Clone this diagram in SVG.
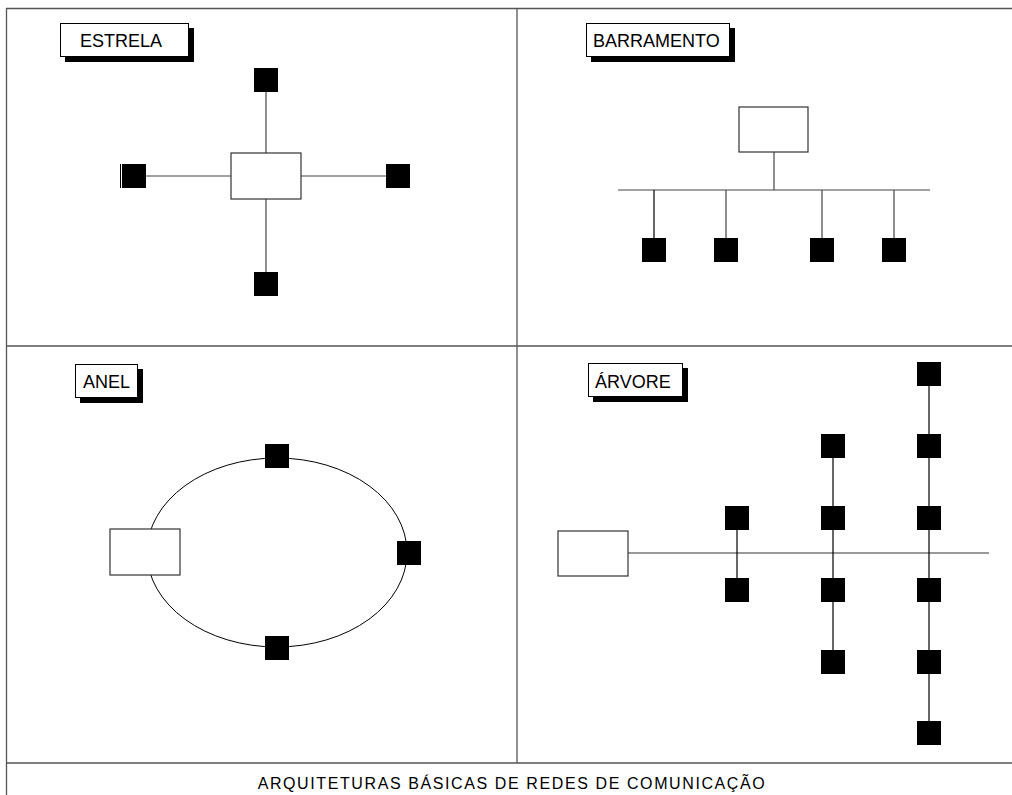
<svg xmlns="http://www.w3.org/2000/svg" width="1012" height="795" viewBox="0 0 1012 795">
<style>
.frame{stroke:#555;stroke-width:1.3;fill:none}
.ln{stroke:#444;stroke-width:1.2;fill:none}
.nd{fill:#000}
.bx{fill:#fff;stroke:#333;stroke-width:1.2}
.sh{fill:#000}
.lb{fill:#fff;stroke:#000;stroke-width:1}
.t{font-family:"Liberation Sans",Arial,sans-serif;font-size:18px;fill:#000}
.ft{font-family:"Liberation Sans",Arial,sans-serif;font-size:16px;fill:#000;letter-spacing:1.6px}
</style>
<g id="frame">
<line class="frame" x1="6" y1="8.5" x2="1012" y2="8.5"/>
<line class="frame" x1="6.5" y1="8" x2="6.5" y2="795"/>
<line class="frame" x1="517" y1="8" x2="517" y2="763"/>
<line class="frame" x1="6" y1="346" x2="1012" y2="346"/>
<line class="frame" x1="6" y1="763" x2="1012" y2="763"/>
</g>
<g id="connectors">
<line class="ln" x1="266" y1="92" x2="266" y2="153"/>
<line class="ln" x1="266" y1="199" x2="266" y2="272"/>
<line class="ln" x1="146" y1="176" x2="231" y2="176"/>
<line class="ln" x1="301" y1="176" x2="386" y2="176"/>
<line class="ln" x1="774" y1="152" x2="774" y2="190"/>
<line class="ln" x1="618" y1="190" x2="930" y2="190"/>
<line class="ln" x1="654" y1="190" x2="654" y2="238" style="stroke:#000"/>
<line class="ln" x1="726" y1="190" x2="726" y2="238"/>
<line class="ln" x1="822" y1="190" x2="822" y2="238"/>
<line class="ln" x1="894" y1="190" x2="894" y2="238"/>
<ellipse cx="277" cy="552.5" rx="130" ry="94.5" style="fill:none;stroke:#000;stroke-width:1"/>
<line class="ln" x1="628" y1="553" x2="989" y2="553" style="stroke:#777;stroke-width:1.5"/>
<line class="ln" x1="737" y1="530" x2="737" y2="578" style="stroke:#000"/>
<line class="ln" x1="833" y1="458" x2="833" y2="650" style="stroke:#000"/>
<line class="ln" x1="929" y1="386" x2="929" y2="721" style="stroke:#000"/>
</g>
<g id="label-estrela">
<rect class="sh" x="65" y="28" width="129" height="34"/>
<rect class="lb" x="60.5" y="23.5" width="128" height="33"/>
<text class="t" x="80" y="47">ESTRELA</text>
</g>
<g id="label-barramento">
<rect class="sh" x="591" y="28" width="144" height="34"/>
<rect class="lb" x="586.5" y="23.5" width="143" height="33"/>
<text class="t" x="593" y="47">BARRAMENTO</text>
</g>
<g id="label-anel">
<rect class="sh" x="80" y="369" width="63" height="34"/>
<rect class="lb" x="75.5" y="364.5" width="62" height="33"/>
<text class="t" x="83" y="388">ANEL</text>
</g>
<g id="label-arvore">
<rect class="sh" x="593" y="368" width="95" height="34"/>
<rect class="lb" x="588.5" y="363.5" width="94" height="33"/>
<text class="t" x="595" y="388">ÁRVORE</text>
</g>
<g id="estrela-hub"><rect class="bx" x="231" y="153" width="70" height="46"/></g>
<g id="estrela-n1"><rect class="nd" x="254" y="68" width="24" height="24"/></g>
<g id="estrela-n2"><rect class="nd" x="122" y="164" width="24" height="24"/><line x1="120.5" y1="164" x2="120.5" y2="188" stroke="#000" stroke-width="1"/></g>
<g id="estrela-n3"><rect class="nd" x="386" y="164" width="24" height="24"/></g>
<g id="estrela-n4"><rect class="nd" x="254" y="272" width="24" height="24"/></g>
<g id="bus-server"><rect class="bx" x="739" y="107" width="69" height="45"/></g>
<g id="bus-n1"><rect class="nd" x="642" y="238" width="24" height="24"/></g>
<g id="bus-n2"><rect class="nd" x="714" y="238" width="24" height="24"/></g>
<g id="bus-n3"><rect class="nd" x="810" y="238" width="24" height="24"/></g>
<g id="bus-n4"><rect class="nd" x="882" y="238" width="24" height="24"/></g>
<g id="ring-server"><rect class="bx" x="110" y="529" width="70" height="46"/></g>
<g id="ring-n1"><rect class="nd" x="265" y="444" width="24" height="24"/></g>
<g id="ring-n2"><rect class="nd" x="397" y="541" width="24" height="24"/></g>
<g id="ring-n3"><rect class="nd" x="265" y="636" width="24" height="24"/></g>
<g id="tree-root"><rect class="bx" x="558" y="531" width="70" height="45"/></g>
<g id="tree-c1">
<rect class="nd" x="725" y="506" width="24" height="24"/>
<rect class="nd" x="725" y="578" width="24" height="24"/>
</g>
<g id="tree-c2">
<rect class="nd" x="821" y="434" width="24" height="24"/>
<rect class="nd" x="821" y="506" width="24" height="24"/>
<rect class="nd" x="821" y="578" width="24" height="24"/>
<rect class="nd" x="821" y="650" width="24" height="24"/>
</g>
<g id="tree-c3">
<rect class="nd" x="917" y="362" width="24" height="24"/>
<rect class="nd" x="917" y="434" width="24" height="24"/>
<rect class="nd" x="917" y="506" width="24" height="24"/>
<rect class="nd" x="917" y="578" width="24" height="24"/>
<rect class="nd" x="917" y="650" width="24" height="24"/>
<rect class="nd" x="917" y="721" width="24" height="24"/>
</g>
<g id="caption">
<text class="ft" x="512" y="789" text-anchor="middle">ARQUITETURAS BÁSICAS DE REDES DE COMUNICAÇÃO</text>
</g>
</svg>
